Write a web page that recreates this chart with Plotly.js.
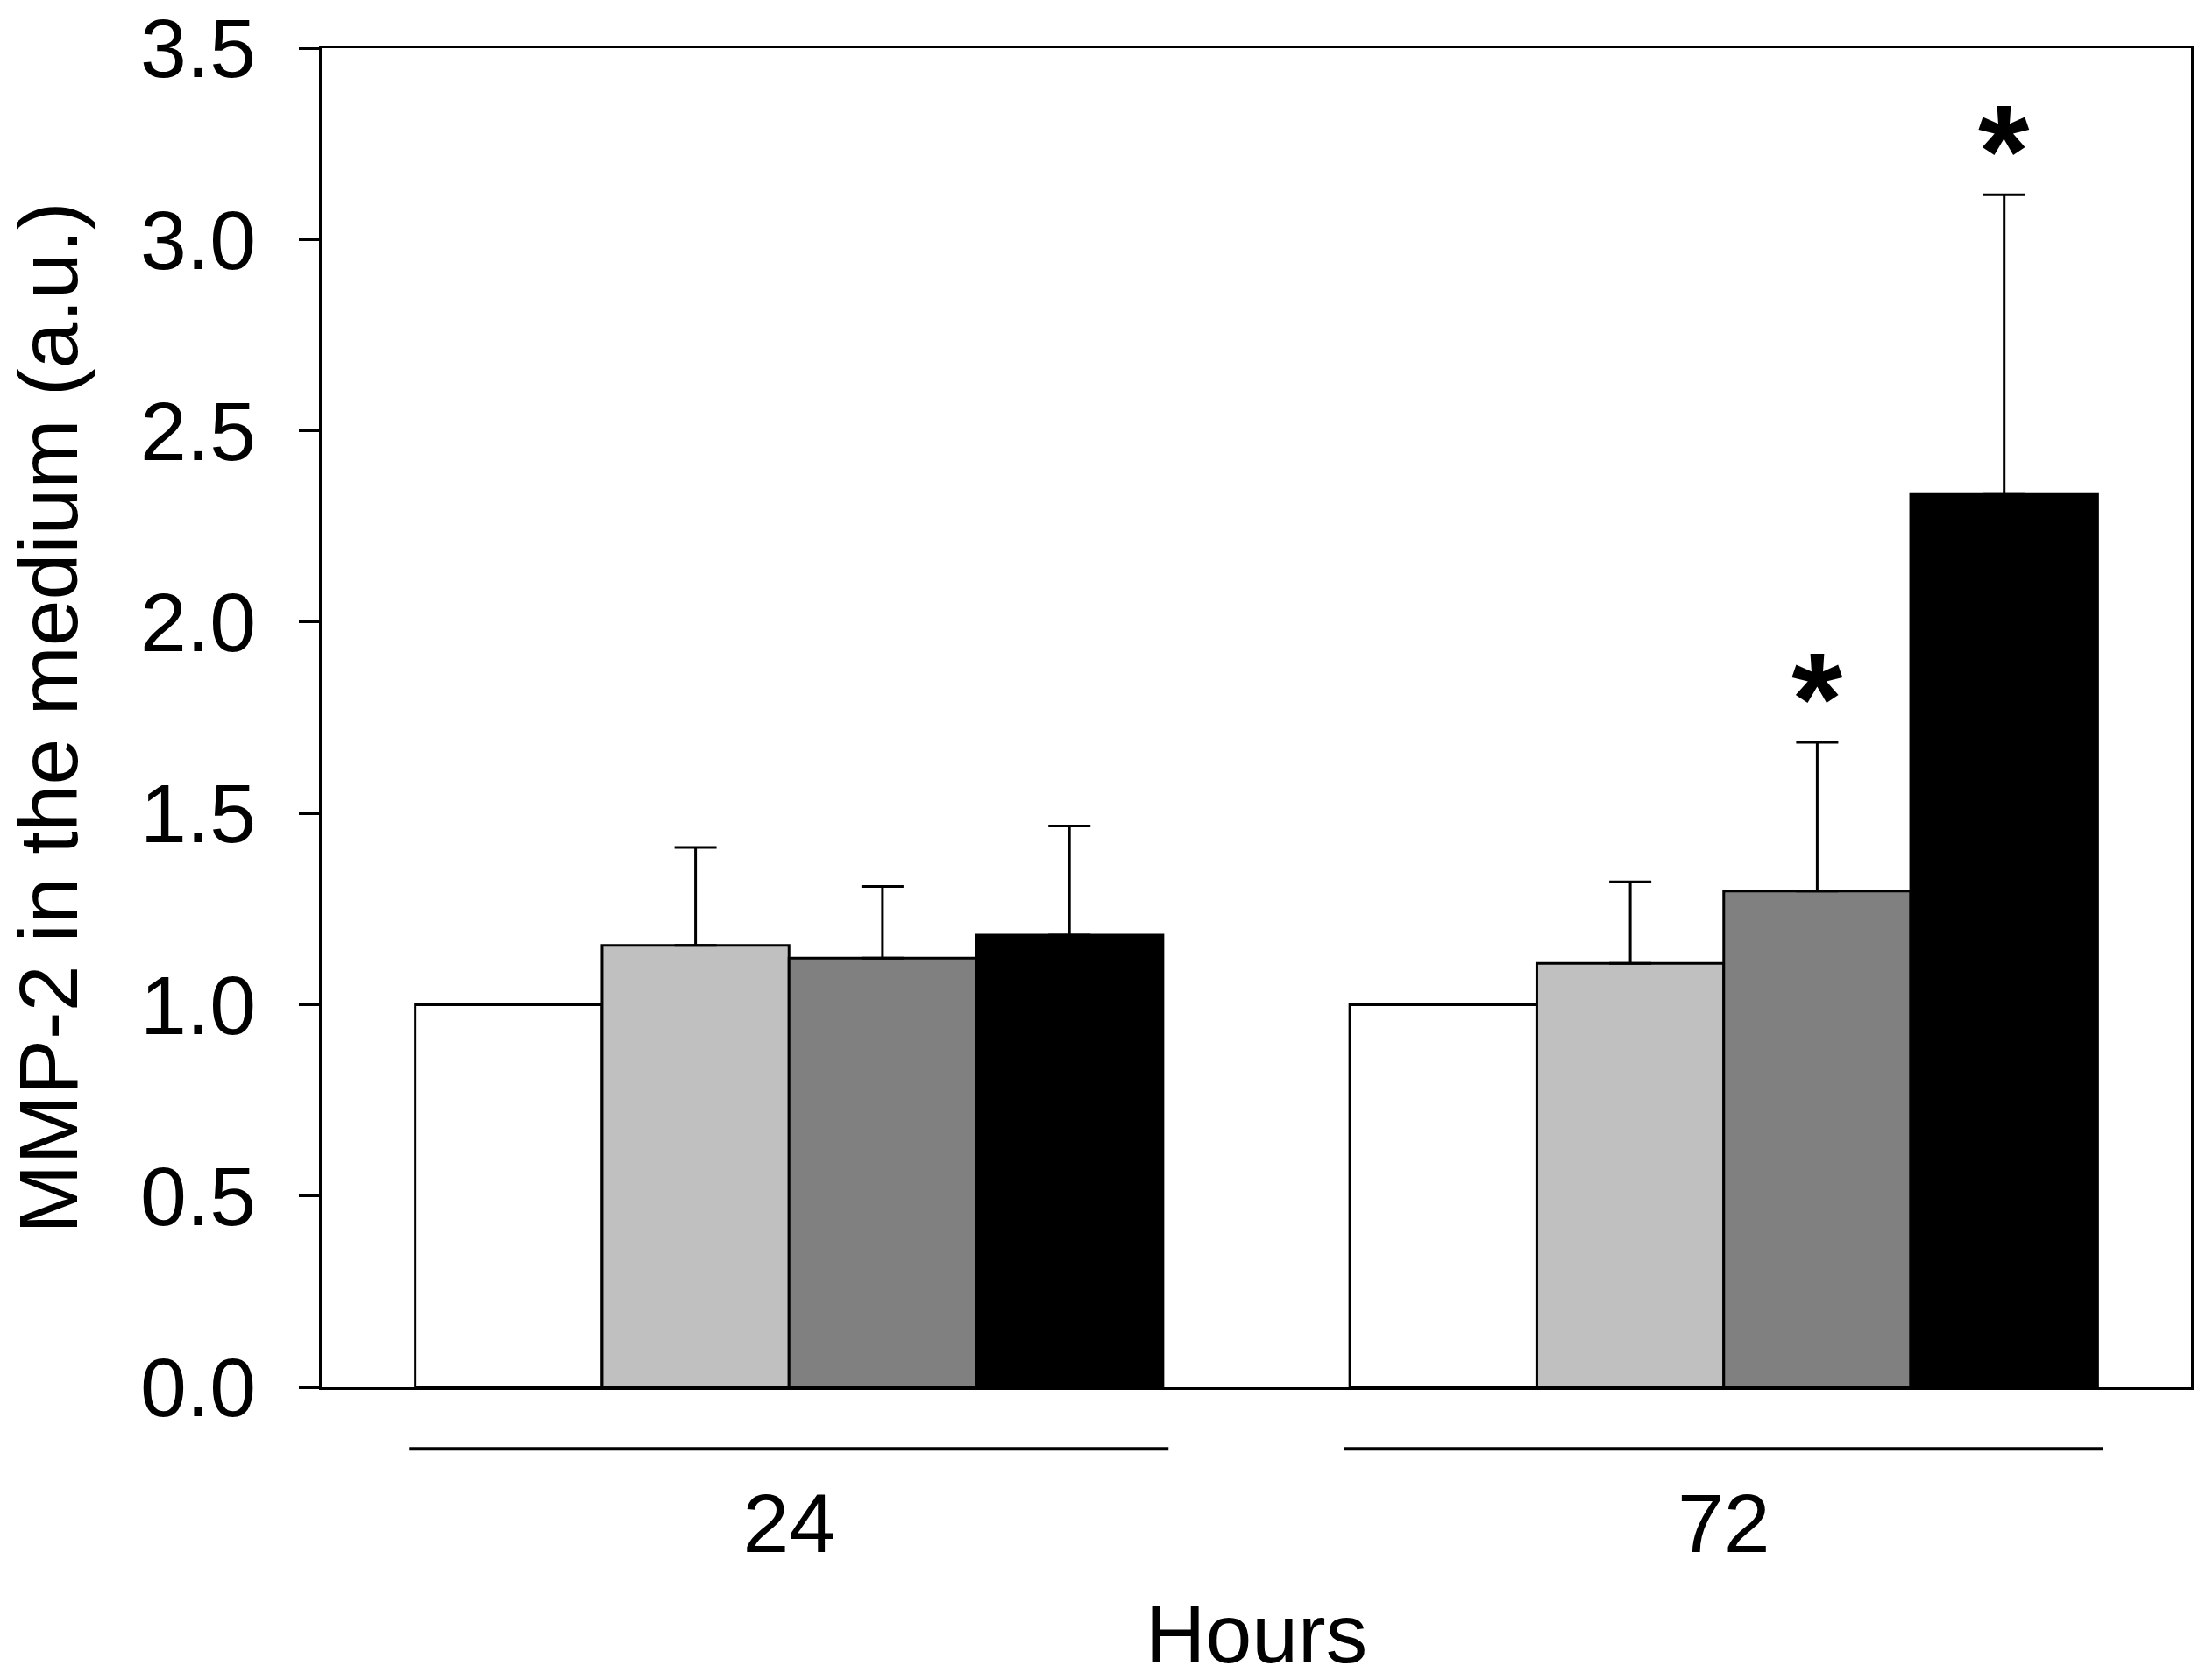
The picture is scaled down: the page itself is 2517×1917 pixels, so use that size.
<!DOCTYPE html>
<html>
<head>
<meta charset="utf-8">
<script src="https://cdn.plot.ly/plotly-3.0.1.min.js"></script>
<style>html,body{margin:0;padding:0;background:#fff;}#chart{width:2517px;height:1917px;}</style>
</head>
<body>
<div id="chart"></div>
<script>
// Data
const groupPos = [0, 1];
const groupLabels = ['24', '72'];
const control = [1.0, 1.0];
const dose1 = [1.155, 1.108];
const dose1Err = [0.256, 0.213];
const dose2 = [1.122, 1.297];
const dose2Err = [0.187, 0.389];
const dose3 = [1.182, 2.336];
const dose3Err = [0.285, 0.781];
const seriesColors = ['#ffffff', '#c0c0c0', '#808080', '#000000'];
const starMarks = [{x: 1.1, y: 1.297 + 0.389}, {x: 1.3, y: 2.336 + 0.781}];

const FONT = 'Liberation Sans, Arial, sans-serif';
const zeros = [0, 0];
function bar(y, err, color) {
  const t = {
    type: 'bar', x: groupPos, y: y,
    marker: {color: color, line: {color: '#000', width: 3}},
    showlegend: false, hoverinfo: 'skip'
  };
  if (err) {
    t.error_y = {type: 'data', symmetric: false, array: err, arrayminus: zeros,
                 color: '#000', thickness: 3, width: 24};
  }
  return t;
}
const data = [
  bar(control, null, seriesColors[0]),
  bar(dose1, dose1Err, seriesColors[1]),
  bar(dose2, dose2Err, seriesColors[2]),
  bar(dose3, dose3Err, seriesColors[3])
];

const lineY = -0.046;
const shapes = groupPos.map(p => ({
  type: 'line', xref: 'x', yref: 'paper', x0: p - 0.406, x1: p + 0.406,
  y0: lineY, y1: lineY, line: {color: '#000', width: 4}
}));

const annotations = starMarks.map(s => ({
  x: s.x, y: s.y, xref: 'x', yref: 'y', text: '*', showarrow: false,
  yanchor: 'bottom', xanchor: 'center', yshift: -37,
  font: {family: FONT, size: 150, color: '#000', weight: 'bold'}
}));

const layout = {
  width: 2517, height: 1917,
  margin: {l: 367, r: 17, t: 55, b: 334},
  paper_bgcolor: '#fff', plot_bgcolor: '#fff',
  barmode: 'group', bargap: 0.2, bargroupgap: 0,
  font: {family: FONT, color: '#000', size: 95},
  xaxis: {
    range: [-0.5, 1.5], tickvals: groupPos, ticktext: groupLabels,
    ticks: '', showgrid: false, zeroline: false,
    showline: true, linecolor: '#000', linewidth: 3, mirror: true,
    tickfont: {family: FONT, size: 95, color: '#000'},
    ticklabelstandoff: 71,
    title: {text: 'Hours', font: {family: FONT, size: 95, color: '#000'}, standoff: 53}
  },
  yaxis: {
    range: [0, 3.5], dtick: 0.5, tick0: 0, tickformat: '.1f',
    ticks: 'outside', ticklen: 23, tickwidth: 3, tickcolor: '#000',
    showgrid: false, zeroline: false,
    showline: true, linecolor: '#000', linewidth: 3, mirror: true,
    tickfont: {family: FONT, size: 95, color: '#000'},
    ticklabelstandoff: 30,
    title: {text: 'MMP-2 in the medium (a.u.)', font: {family: FONT, size: 95, color: '#000'}, standoff: 40}
  },
  shapes: shapes,
  annotations: annotations
};

Plotly.newPlot('chart', data, layout, {displayModeBar: false, staticPlot: true});
</script>
</body>
</html>
